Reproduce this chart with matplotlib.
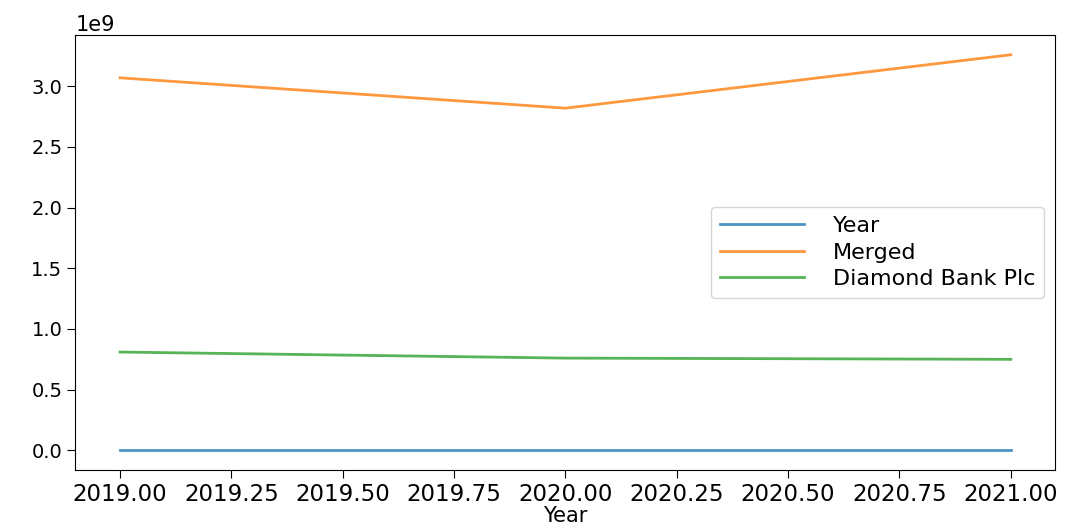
import matplotlib
matplotlib.use("Agg")
import matplotlib.pyplot as plt

years = [2019, 2020, 2021]
merged = [3.07e9, 2.82e9, 3.26e9]
diamond = [0.81e9, 0.76e9, 0.75e9]

fig, ax = plt.subplots(figsize=(10.78, 5.30), dpi=100)
fig.subplots_adjust(left=0.07, right=0.979, top=0.934, bottom=0.113)

ax.plot(years, years, color="#1f77b4", lw=2, alpha=0.8, label="Year")
ax.plot(years, merged, color="#ff7f0e", lw=2, alpha=0.8, label="Merged")
ax.plot(years, diamond, color="#2ca02c", lw=2, alpha=0.8, label="Diamond Bank Plc")

ax.set_xticks([2019 + 0.25 * i for i in range(9)])
ax.set_xticklabels(["%.2f" % (2019 + 0.25 * i) for i in range(9)], fontsize=16.5)
ax.tick_params(axis="y", labelsize=14)
ax.tick_params(length=6)
ax.yaxis.get_offset_text().set_fontsize(15)
ax.set_xlabel("Year", fontsize=15, labelpad=0)
ax.legend(loc="center right", fontsize=16, handlelength=3.8, handletextpad=1.3,
          labelspacing=0.3)

fig.savefig("out.png", dpi=100)
